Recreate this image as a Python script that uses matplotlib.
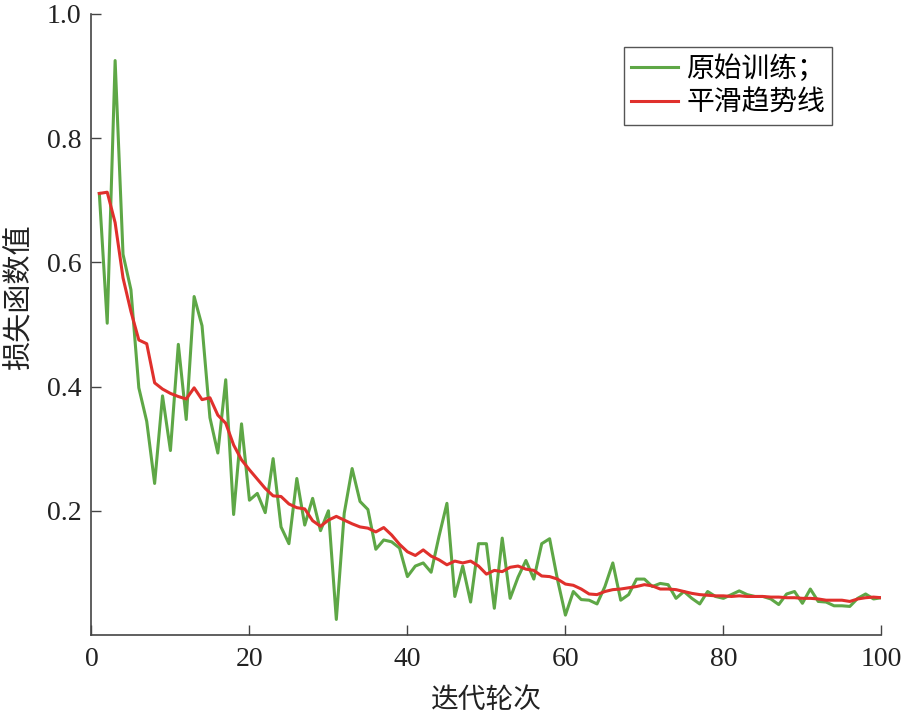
import numpy as np
import matplotlib
matplotlib.use('Agg')
import matplotlib.pyplot as plt

# data
epochs = np.arange(1, 101)

raw_loss = [
    0.711, 0.502, 0.925, 0.613, 0.556, 0.398, 0.344, 0.244, 0.385, 0.297,
    0.468, 0.347, 0.545, 0.498, 0.350, 0.293, 0.411, 0.194, 0.340, 0.217,
    0.228, 0.197, 0.284, 0.174, 0.147, 0.252, 0.177, 0.220, 0.168, 0.200,
    0.025, 0.196, 0.268, 0.215, 0.202, 0.138, 0.153, 0.150, 0.140, 0.094,
    0.111, 0.116, 0.101, 0.159, 0.212, 0.062, 0.111, 0.053, 0.147, 0.147,
    0.043, 0.156, 0.059, 0.093, 0.120, 0.090, 0.147, 0.155, 0.089, 0.032,
    0.070, 0.057, 0.056, 0.050, 0.078, 0.116, 0.056, 0.065, 0.090, 0.090,
    0.078, 0.083, 0.081, 0.059, 0.070, 0.059, 0.050, 0.070, 0.062, 0.059,
    0.065, 0.071, 0.065, 0.062, 0.062, 0.058, 0.049, 0.066, 0.070, 0.051,
    0.074, 0.054, 0.053, 0.047, 0.047, 0.046, 0.059, 0.066, 0.058, 0.060,
]

smooth_loss = [
    0.711, 0.713, 0.664, 0.575, 0.521, 0.475, 0.469, 0.406, 0.396, 0.389,
    0.384, 0.380, 0.398, 0.379, 0.382, 0.354, 0.341, 0.306, 0.282, 0.266,
    0.251, 0.236, 0.224, 0.223, 0.211, 0.205, 0.203, 0.184, 0.175, 0.185,
    0.191, 0.185, 0.179, 0.174, 0.172, 0.166, 0.173, 0.161, 0.146, 0.134,
    0.128, 0.137, 0.127, 0.121, 0.113, 0.119, 0.116, 0.119, 0.111, 0.098,
    0.104, 0.102, 0.109, 0.111, 0.106, 0.104, 0.095, 0.094, 0.090, 0.082,
    0.080, 0.074, 0.066, 0.065, 0.070, 0.073, 0.074, 0.076, 0.078, 0.081,
    0.079, 0.074, 0.074, 0.073, 0.070, 0.067, 0.065, 0.064, 0.063, 0.063,
    0.062, 0.063, 0.062, 0.062, 0.062, 0.061, 0.061, 0.060, 0.060, 0.059,
    0.059, 0.058, 0.056, 0.056, 0.056, 0.054, 0.058, 0.060, 0.061, 0.060,
]

x_ticks = [0, 20, 40, 60, 80, 100]
y_ticks = [0.2, 0.4, 0.6, 0.8, 1.0]

labels = ['原始训练；', '平滑趋势线']
colors = ['#5ea746', '#e0302c']

cjk = ['Noto Sans CJK SC', 'DejaVu Sans']
num_font = ['Liberation Serif', 'DejaVu Serif']

fig = plt.figure(figsize=(9.07, 7.17), dpi=100)
ax = fig.add_axes([0.1008, 0.1144, 0.8710, 0.8661])

ax.plot(epochs, raw_loss, color=colors[0], lw=2.2, label=labels[0])
ax.plot(epochs, smooth_loss, color=colors[1], lw=2.2, label=labels[1])

ax.set_xlim(0, 100)
ax.set_ylim(0, 1.0)
ax.set_xticks(x_ticks)
ax.set_yticks(y_ticks)
ax.set_xticklabels([str(t) for t in x_ticks], fontfamily=num_font, fontsize=20)
ax.set_yticklabels(['%.1f' % t for t in y_ticks], fontfamily=num_font, fontsize=20)

# only left/bottom axes, ticks pointing inward
for s in ['top', 'right']:
    ax.spines[s].set_visible(False)
for s in ['left', 'bottom']:
    ax.spines[s].set_color('#444444')
    ax.spines[s].set_linewidth(1.2)
ax.tick_params(direction='in', length=7, width=1.0, color='#444444',
               labelcolor='#222222')
ax.tick_params(axis='x', pad=9)
ax.tick_params(axis='y', pad=7)

ax.set_xlabel('迭代轮次', fontfamily=cjk, fontsize=20, color='#222222')
ax.set_ylabel('损失函数值', fontfamily=cjk, fontsize=21, color='#222222')
ax.xaxis.set_label_coords(0.5, -0.081)
ax.yaxis.set_label_coords(-0.072, 0.544)

leg = ax.legend(loc='upper right', bbox_to_anchor=(0.9375, 0.947),
                borderaxespad=0, prop={'family': cjk, 'size': 20},
                handlelength=1.7, handletextpad=0.3, labelspacing=0.15,
                borderpad=0.25, fancybox=False, framealpha=1)
leg.get_frame().set_edgecolor('#555555')
leg.get_frame().set_linewidth(1.0)

plt.savefig('out.png', dpi=100)
